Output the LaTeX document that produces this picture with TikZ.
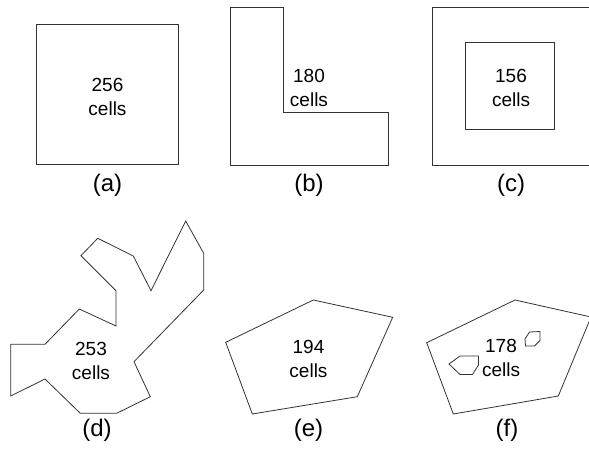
\documentclass[tikz,border=0pt]{standalone}
\usepackage{fontspec}
\setmainfont{Liberation Sans}
\begin{document}
\begin{tikzpicture}[x=1pt,y=-1pt,
  outline/.style={draw=black!80,line width=0.8pt,line join=miter},
  count/.style={align=center,font=\fontsize{19}{24}\selectfont,inner sep=0pt},
  caption/.style={font=\fontsize{24}{28}\selectfont,inner sep=0pt}]
\useasboundingbox (0,0) rectangle (589,453);
\clip (0,0) rectangle (589,453);

% (a) square region
\draw[outline] (36.5,24.5) rectangle (178,164.5);
\node[count] (ta) at (107.5,97) {256\\cells};
\node[caption] (ca) at (107.5,185) {(a)};

% (b) L-shaped region
\draw[outline] (230,7.5) -- (283,7.5) -- (283,112.5) -- (388,112.5)
  -- (388,165) -- (230,165) -- cycle;
\node[count] (tb) at (309,88) {180\\cells};
\node[caption] (cb) at (309,185) {(b)};

% (c) frame with a square hole; its right side runs along the page edge
\draw[outline] (432.5,7.5) rectangle (589.4,165);
\draw[outline] (465,42.5) rectangle (554,129.5);
\node[count] (tc) at (511,88) {156\\cells};
\node[caption] (cc) at (511,185) {(c)};

% (d) irregular concave polygon
\draw[outline] (10.7,344.3) -- (45,344.3) -- (79.3,309) -- (116,326)
  -- (116,290.7) -- (81,255.7) -- (97.7,238.3) -- (133.3,256)
  -- (151,290.7) -- (185.7,221) -- (203.7,253.3) -- (203.7,290)
  -- (134,361.7) -- (150.3,396.7) -- (116.7,413.3) -- (80.3,413.3)
  -- (45,379) -- (10.7,396) -- cycle;
\node[count] (td) at (91,361) {253\\cells};
\node[caption] (cd) at (97,430) {(d)};

% (e) convex pentagon
\draw[outline] (225.7,342.3) -- (313.3,300) -- (392.7,317.3)
  -- (357.3,396.7) -- (252.3,414) -- cycle;
\node[count] (te) at (308.5,359) {194\\cells};
\node[caption] (ce) at (308.5,430) {(e)};

% (f) pentagon with two small holes
\draw[outline] (426.7,342.7) -- (515,300) -- (591,317)
  -- (558.3,396) -- (453.3,414) -- cycle;
\draw[outline] (525,339) -- (529.5,332) -- (540,331.5) -- (540,340.5)
  -- (534.5,346) -- (525.5,346) -- cycle;
\draw[outline] (449,364) -- (460,356) -- (478.5,356) -- (478.5,365)
  -- (472.5,374.5) -- (460,374.5) -- cycle;
\node[count] (tf) at (501,358) {178\\cells};
\node[caption] (cf) at (507,430) {(f)};
\end{tikzpicture}
\end{document}
